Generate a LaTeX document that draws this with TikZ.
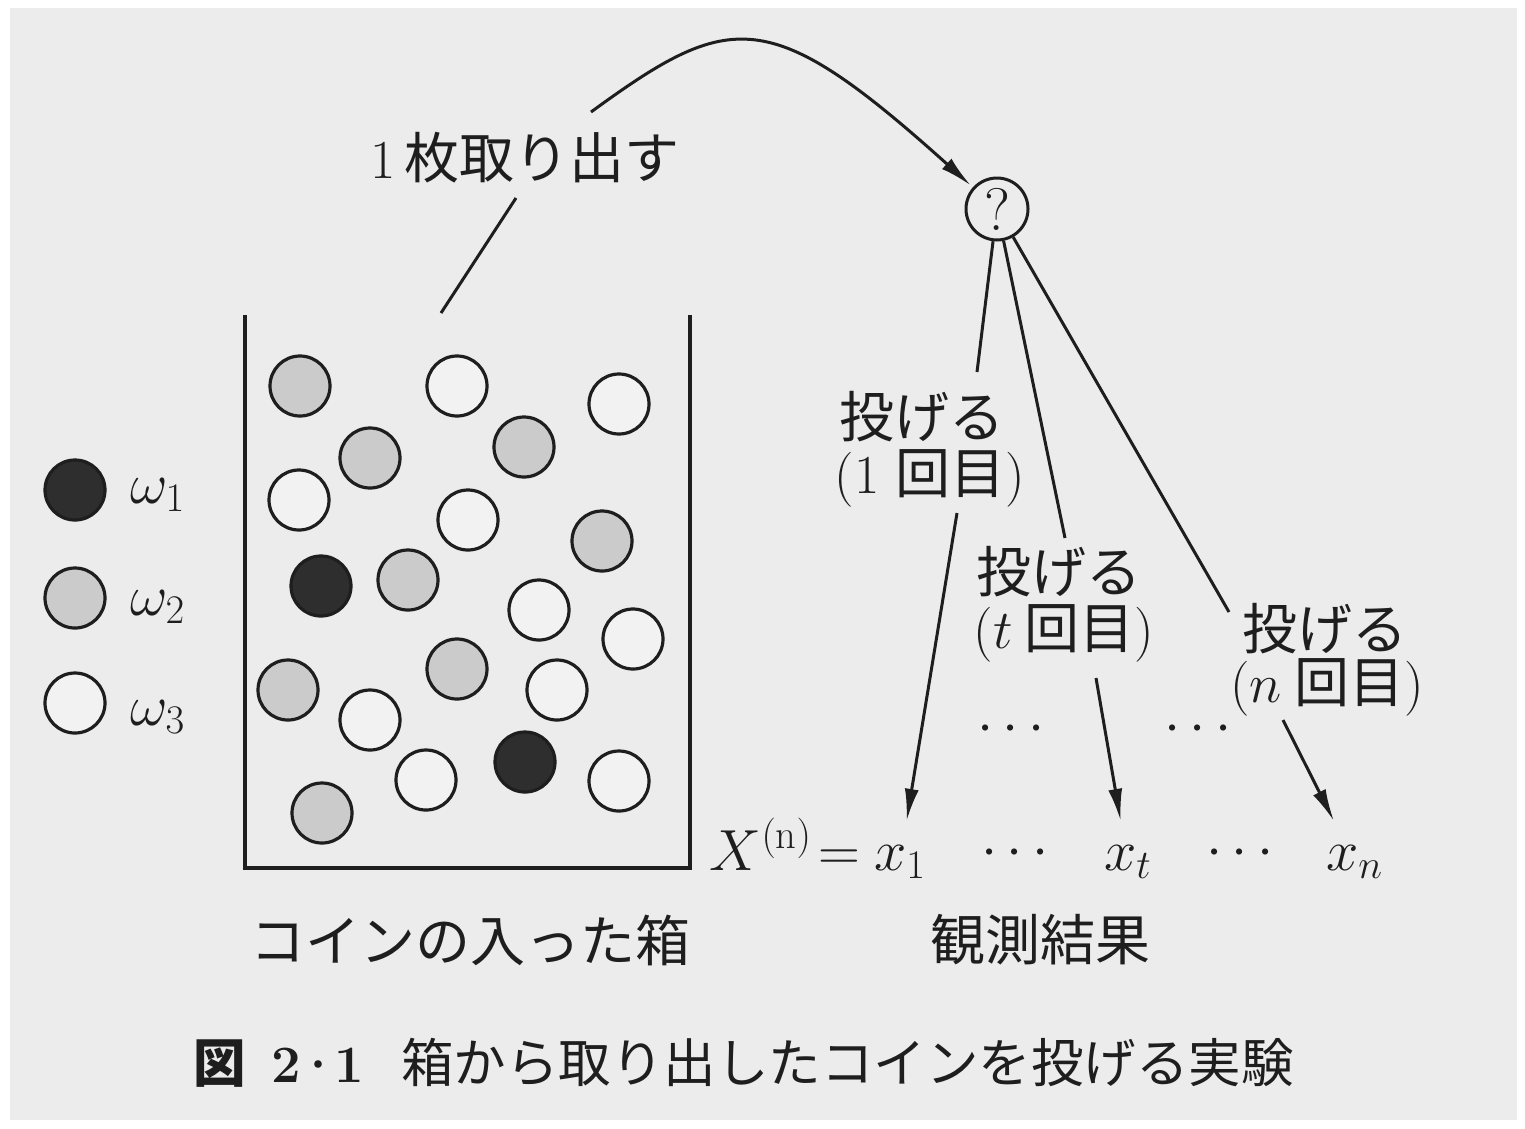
\RequirePackage{fix-cm}
\documentclass[tikz,border=0pt]{standalone}
\usepackage{fontspec}
\newfontfamily\cjk{Noto Sans CJK JP}
\usetikzlibrary{arrows.meta,calc}
\definecolor{bg}{HTML}{ECECEC}
\definecolor{ink}{HTML}{1E1E1E}
\definecolor{coingray}{HTML}{CBCBCB}
\definecolor{coinblack}{HTML}{2E2E2E}
\definecolor{coinwhite}{HTML}{F2F2F2}
\begin{document}
\begin{tikzpicture}[x=1pt,y=-1pt,
  coin/.style={circle,draw=ink,line width=3.2pt,minimum size=60pt,inner sep=0pt},
  cw/.style={coin,fill=coinwhite},
  cg/.style={coin,fill=coingray},
  cb/.style={coin,fill=coinblack},
  jp/.style={font=\cjk\fontsize{55}{60}\selectfont,text=ink,inner sep=0pt},
  captext/.style={font=\cjk\fontsize{52.5}{58}\selectfont,text=ink,inner sep=0pt},
  mth/.style={font=\fontsize{58}{64}\selectfont,text=ink,inner sep=0pt},
  xnode/.style={mth,inner xsep=0pt,inner ysep=24pt},
  ln/.style={draw=ink,line width=3pt},
  arr/.style={ln,-{Latex[length=32pt,width=14pt]}},
]
% background
\useasboundingbox (0,0) rectangle (1525,1128);
\fill[white] (0,0) rectangle (1525,1128);
\fill[bg] (10,8) rectangle (1517,1120);

% box
\draw[ink,line width=3.5pt] (245,315) -- (245,868) -- (690,868) -- (690,315);

% coins in the box
\node[cg] (c1) at (300,386) {};
\node[cw] (c2) at (457,386) {};
\node[cw] (c3) at (619,404) {};
\node[cg] (c4) at (370,458) {};
\node[cg] (c5) at (524,447) {};
\node[cw] (c6) at (299,500) {};
\node[cw] (c7) at (468,520) {};
\node[cg] (c8) at (602,541) {};
\node[cb] (c9) at (321,586) {};
\node[cg] (c10) at (408,580) {};
\node[cw] (c11) at (539,610) {};
\node[cw] (c12) at (633,639) {};
\node[cg] (c13) at (457,669) {};
\node[cg] (c14) at (288,690) {};
\node[cw] (c15) at (557,690) {};
\node[cw] (c16) at (370,720) {};
\node[cb] (c17) at (525,762) {};
\node[cw] (c18) at (426,780) {};
\node[cw] (c19) at (619,781) {};
\node[cg] (c20) at (322,813) {};

% legend
\node[cb] (k1) at (75,490) {};
\node[cg] (k2) at (75,598) {};
\node[cw] (k3) at (75,703) {};
\node[mth,anchor=base west] (w1) at (130,503) {$\omega_1$};
\node[mth,anchor=base west] (w2) at (130,615) {$\omega_2$};
\node[mth,anchor=base west] (w3) at (130,725) {$\omega_3$};

% take one out
\node[jp] (take) at (525,158) {{\rmfamily 1\,}枚取り出す};
\coordinate (boxtop) at (441,313);
\coordinate (takeB) at (516,198);
\coordinate (arcS) at (591,112);
\draw[ln] (boxtop) -- (takeB);

% question coin
\node[circle,draw=ink,line width=3pt,minimum size=62pt,inner sep=0pt,
      font=\fontsize{60}{60}\selectfont,text=ink] (q) at (997,209) {?};
\draw[arr,shorten >=3pt] (arcS) .. controls (731,10) and (769,4) .. (q);

% throw labels
\node[jp] (l1) at (922,417) {投げる};
\node[jp] (l1p) at (930,478) {{\rmfamily(1\ }回目{\rmfamily)}};
\node[jp] (lt) at (1059,572) {投げる};
\node[jp] (ltp) at (1064,633) {{\rmfamily(}$t$\ 回目{\rmfamily)}};
\node[jp] (lnn) at (1325,629) {投げる};
\node[jp] (lnp) at (1327,687) {{\rmfamily(}$n$\ 回目{\rmfamily)}};

% middle dots
\node[mth,anchor=base] (m1) at (1011,742) {$\cdots$};
\node[mth,anchor=base] (m2) at (1198,742) {$\cdots$};

% observation row
\node[mth,anchor=base east] (X) at (860,870) {$X^{(\mathrm{n})}\!=$};
\node[xnode,anchor=base west] (x1) at (874,870) {$x_1$};
\node[mth,anchor=base] (d1) at (1015,866) {$\cdots$};
\node[xnode,anchor=base west] (xt) at (1104,870) {$x_t$};
\node[mth,anchor=base] (d2) at (1240,866) {$\cdots$};
\node[xnode,anchor=base west] (xn) at (1326,870) {$x_n$};

% connectors from the coin
\coordinate (a1) at (977,372);
\coordinate (b1) at (957,513);
\coordinate (a2) at (1065,538);
\coordinate (b2) at (1096,678);
\coordinate (a3) at (1229,612);
\coordinate (b3) at (1283,720);
\draw[ln] (q) -- (a1);
\draw[ln] (q) -- (a2);
\draw[ln] (q) -- (a3);
\draw[arr] (b1) -- (x1);
\draw[arr] (b2) -- (xt);
\draw[arr] (b3) -- (xn);

% bottom labels
\node[jp] (boxlab) at (470,940) {コインの入った箱};
\node[jp] (obslab) at (1040,940) {観測結果};

% caption
\node[captext,anchor=west] (caption) at (193,1063)
  {{\bfseries 図}\enspace{\rmfamily\bfseries 2\kern-0.12em\textperiodcentered\kern-0.12em 1}\kern0.7em 箱から取り出したコインを投げる実験};
\end{tikzpicture}
\end{document}
